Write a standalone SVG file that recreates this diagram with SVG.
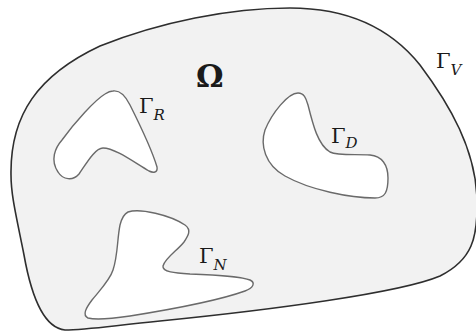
<svg xmlns="http://www.w3.org/2000/svg" width="476" height="331" viewBox="0 0 476 331">
<style>
.hole{fill:#ffffff;stroke:#6a6a6a;stroke-width:1.4}
.g{font-family:"DejaVu Serif","Liberation Serif",serif;font-size:21px;fill:#1a1a1a}
.s{font-family:"DejaVu Serif","Liberation Serif",serif;font-size:15px;font-style:italic;fill:#1a1a1a}
</style>
<rect width="476" height="331" fill="#ffffff"/>
<g id="domain">
<path d="M 11,175 C 10,115 38,75 100,46 C 160,22 230,8 290,8 C 350,8 392,30 420,65 C 450,105 476,150 477,200 C 478,238 472,260 440,276 C 400,293 270,310 160,321 C 110,326 85,330 65,330 C 45,328 32,300 24,255 C 16,215 11,195 11,175 Z" fill="#f2f2f2" stroke="#2e2e2e" stroke-width="1.6"/>
</g>
<g id="holeR">
<path class="hole" d="M 113,91 C 120,90 125,95 130,105 C 140,125 152,150 157,167 C 158,173 153,173 149,171 C 135,163 115,148 103,148 C 95,148 86,164 79,174 C 73,181 63,180 58,172 C 50,160 55,148 62,140 C 75,122 95,100 105,94 C 108,92 110,91 113,91 Z"/>
</g>
<g id="holeD">
<path class="hole" d="M 298,93 C 304,93 306,98 308,105 C 313,125 318,145 330,152 C 338,156 355,154 370,155 C 382,156 388,165 388,178 C 388,192 385,198 375,198 C 350,198 310,190 285,176 C 265,165 260,145 265,130 C 272,113 288,93 298,93 Z"/>
</g>
<g id="holeN">
<path class="hole" d="M 128,212 C 140,208 170,215 185,225 C 192,230 188,236 184,242 C 178,250 165,258 163,266 C 162,272 175,273 190,274 C 215,275 240,276 250,280 C 256,283 253,288 245,291 C 220,300 180,308 130,316 C 110,319 95,320 88,318 C 82,315 86,308 92,300 C 100,290 110,280 113,270 C 118,255 117,240 120,225 C 122,217 124,214 128,212 Z"/>
</g>
<g id="labels">
<text x="196" y="87" font-family="DejaVu Serif, Liberation Serif, serif" font-size="31" font-weight="bold" fill="#1a1a1a">Ω</text>
<text class="g" x="139" y="113">Γ<tspan class="s" dx="0" dy="7">R</tspan></text>
<text class="g" x="436" y="68">Γ<tspan class="s" dx="0" dy="7">V</tspan></text>
<text class="g" x="331" y="143">Γ<tspan class="s" dx="0" dy="5">D</tspan></text>
<text class="g" x="199" y="263">Γ<tspan class="s" dx="0" dy="7">N</tspan></text>
</g>
</svg>
